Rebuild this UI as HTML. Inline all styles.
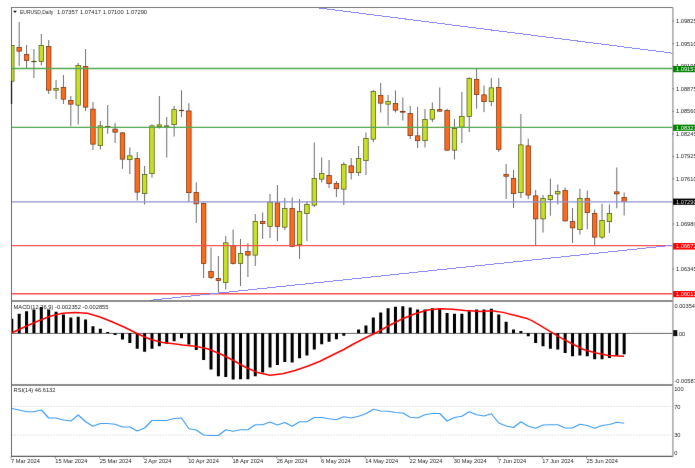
<!DOCTYPE html>
<html><head><meta charset="utf-8"><title>EURUSD Daily</title>
<style>html,body{margin:0;padding:0;background:#fff;overflow:hidden}svg{display:block}</style>
</head><body>
<svg width="695" height="468" viewBox="0 0 695 468" font-family="Liberation Sans, Arial, sans-serif">
<rect width="695" height="468" fill="#fff"/>
<filter id="bl" x="0" y="0" width="695" height="468" filterUnits="userSpaceOnUse" color-interpolation-filters="sRGB"><feConvolveMatrix order="3" kernelMatrix="0.00276 0.04704 0.00276 0.04704 0.80077 0.04704 0.00276 0.04704 0.00276" edgeMode="duplicate" preserveAlpha="true"/></filter>
<g filter="url(#bl)">
<rect width="695" height="468" fill="#fff"/>
<defs><clipPath id="cm"><rect x="11.0" y="7.5" width="661.9" height="293.5"/></clipPath><clipPath id="c2"><rect x="11.0" y="301.0" width="661.9" height="83.98000000000002"/></clipPath></defs>
<g clip-path="url(#cm)">
<line x1="11.80" y1="45" x2="11.80" y2="104" stroke="#3c3c3c" stroke-width="0.75"/>
<rect x="9.55" y="45.35" width="4.50" height="35.80" fill="#c8e123" stroke="#4a5214" stroke-width="0.7"/>
<line x1="19.18" y1="22" x2="19.18" y2="66" stroke="#3c3c3c" stroke-width="0.75"/>
<rect x="16.93" y="47.35" width="4.50" height="3.80" fill="#ff6a1a" stroke="#6e2f10" stroke-width="0.7"/>
<line x1="26.56" y1="45" x2="26.56" y2="69" stroke="#3c3c3c" stroke-width="0.75"/>
<rect x="24.31" y="54.35" width="4.50" height="6.30" fill="#ff6a1a" stroke="#6e2f10" stroke-width="0.7"/>
<line x1="33.93" y1="49" x2="33.93" y2="78" stroke="#3c3c3c" stroke-width="0.75"/>
<rect x="31.68" y="61.25" width="4.50" height="0.50" fill="#c8e123" stroke="#4a5214" stroke-width="0.7"/>
<line x1="41.31" y1="34" x2="41.31" y2="65.5" stroke="#3c3c3c" stroke-width="0.75"/>
<rect x="39.06" y="45.35" width="4.50" height="16.30" fill="#c8e123" stroke="#4a5214" stroke-width="0.7"/>
<line x1="48.69" y1="40" x2="48.69" y2="94" stroke="#3c3c3c" stroke-width="0.75"/>
<rect x="46.44" y="46.35" width="4.50" height="43.80" fill="#ff6a1a" stroke="#6e2f10" stroke-width="0.7"/>
<line x1="56.07" y1="80" x2="56.07" y2="99" stroke="#3c3c3c" stroke-width="0.75"/>
<rect x="53.82" y="88.35" width="4.50" height="1.80" fill="#c8e123" stroke="#4a5214" stroke-width="0.7"/>
<line x1="63.45" y1="75" x2="63.45" y2="104" stroke="#3c3c3c" stroke-width="0.75"/>
<rect x="61.20" y="87.35" width="4.50" height="11.80" fill="#ff6a1a" stroke="#6e2f10" stroke-width="0.7"/>
<line x1="70.82" y1="96" x2="70.82" y2="126.25" stroke="#3c3c3c" stroke-width="0.75"/>
<rect x="68.57" y="100.35" width="4.50" height="3.80" fill="#ff6a1a" stroke="#6e2f10" stroke-width="0.7"/>
<line x1="78.20" y1="63" x2="78.20" y2="124.5" stroke="#3c3c3c" stroke-width="0.75"/>
<rect x="75.95" y="65.35" width="4.50" height="39.80" fill="#c8e123" stroke="#4a5214" stroke-width="0.7"/>
<line x1="85.58" y1="49" x2="85.58" y2="111" stroke="#3c3c3c" stroke-width="0.75"/>
<rect x="83.33" y="66.35" width="4.50" height="40.80" fill="#ff6a1a" stroke="#6e2f10" stroke-width="0.7"/>
<line x1="92.96" y1="102" x2="92.96" y2="150" stroke="#3c3c3c" stroke-width="0.75"/>
<rect x="90.71" y="109.10" width="4.50" height="35.05" fill="#ff6a1a" stroke="#6e2f10" stroke-width="0.7"/>
<line x1="100.34" y1="121" x2="100.34" y2="149.5" stroke="#3c3c3c" stroke-width="0.75"/>
<rect x="98.09" y="125.85" width="4.50" height="19.80" fill="#c8e123" stroke="#4a5214" stroke-width="0.7"/>
<line x1="107.71" y1="105" x2="107.71" y2="133.75" stroke="#3c3c3c" stroke-width="0.75"/>
<rect x="105.46" y="126.35" width="4.50" height="1.30" fill="#ff6a1a" stroke="#6e2f10" stroke-width="0.7"/>
<line x1="115.09" y1="123" x2="115.09" y2="143" stroke="#3c3c3c" stroke-width="0.75"/>
<rect x="112.84" y="129.10" width="4.50" height="3.05" fill="#ff6a1a" stroke="#6e2f10" stroke-width="0.7"/>
<line x1="122.47" y1="132" x2="122.47" y2="168.75" stroke="#3c3c3c" stroke-width="0.75"/>
<rect x="120.22" y="132.85" width="4.50" height="26.30" fill="#ff6a1a" stroke="#6e2f10" stroke-width="0.7"/>
<line x1="129.85" y1="147.5" x2="129.85" y2="174" stroke="#3c3c3c" stroke-width="0.75"/>
<rect x="127.60" y="155.85" width="4.50" height="3.80" fill="#c8e123" stroke="#4a5214" stroke-width="0.7"/>
<line x1="137.23" y1="152" x2="137.23" y2="200.5" stroke="#3c3c3c" stroke-width="0.75"/>
<rect x="134.98" y="158.35" width="4.50" height="33.80" fill="#ff6a1a" stroke="#6e2f10" stroke-width="0.7"/>
<line x1="144.60" y1="166" x2="144.60" y2="204.5" stroke="#3c3c3c" stroke-width="0.75"/>
<rect x="142.35" y="174.35" width="4.50" height="19.30" fill="#c8e123" stroke="#4a5214" stroke-width="0.7"/>
<line x1="151.98" y1="124.5" x2="151.98" y2="177.5" stroke="#3c3c3c" stroke-width="0.75"/>
<rect x="149.73" y="125.85" width="4.50" height="47.80" fill="#c8e123" stroke="#4a5214" stroke-width="0.7"/>
<line x1="159.36" y1="96" x2="159.36" y2="128.5" stroke="#3c3c3c" stroke-width="0.75"/>
<rect x="157.11" y="124.85" width="4.50" height="1.80" fill="#c8e123" stroke="#4a5214" stroke-width="0.7"/>
<line x1="166.74" y1="117" x2="166.74" y2="157.5" stroke="#3c3c3c" stroke-width="0.75"/>
<rect x="164.49" y="125.85" width="4.50" height="0.50" fill="#c8e123" stroke="#4a5214" stroke-width="0.7"/>
<line x1="174.12" y1="105.8" x2="174.12" y2="136.5" stroke="#3c3c3c" stroke-width="0.75"/>
<rect x="171.87" y="109.65" width="4.50" height="15.00" fill="#c8e123" stroke="#4a5214" stroke-width="0.7"/>
<line x1="181.49" y1="90.3" x2="181.49" y2="117" stroke="#3c3c3c" stroke-width="0.75"/>
<rect x="179.24" y="110.25" width="4.50" height="0.50" fill="#ff6a1a" stroke="#6e2f10" stroke-width="0.7"/>
<line x1="188.87" y1="103.2" x2="188.87" y2="201.8" stroke="#3c3c3c" stroke-width="0.75"/>
<rect x="186.62" y="110.95" width="4.50" height="81.70" fill="#ff6a1a" stroke="#6e2f10" stroke-width="0.7"/>
<line x1="196.25" y1="182.3" x2="196.25" y2="223" stroke="#3c3c3c" stroke-width="0.75"/>
<rect x="194.00" y="192.35" width="4.50" height="11.50" fill="#ff6a1a" stroke="#6e2f10" stroke-width="0.7"/>
<line x1="203.63" y1="202.5" x2="203.63" y2="278" stroke="#3c3c3c" stroke-width="0.75"/>
<rect x="201.38" y="203.55" width="4.50" height="60.10" fill="#ff6a1a" stroke="#6e2f10" stroke-width="0.7"/>
<line x1="211.01" y1="247.5" x2="211.01" y2="279" stroke="#3c3c3c" stroke-width="0.75"/>
<rect x="208.76" y="271.35" width="4.50" height="6.30" fill="#ff6a1a" stroke="#6e2f10" stroke-width="0.7"/>
<line x1="218.38" y1="256" x2="218.38" y2="292.5" stroke="#3c3c3c" stroke-width="0.75"/>
<rect x="216.13" y="278.35" width="4.50" height="2.30" fill="#ff6a1a" stroke="#6e2f10" stroke-width="0.7"/>
<line x1="225.76" y1="236" x2="225.76" y2="289.5" stroke="#3c3c3c" stroke-width="0.75"/>
<rect x="223.51" y="242.85" width="4.50" height="39.80" fill="#c8e123" stroke="#4a5214" stroke-width="0.7"/>
<line x1="233.14" y1="229.5" x2="233.14" y2="264.5" stroke="#3c3c3c" stroke-width="0.75"/>
<rect x="230.89" y="245.85" width="4.50" height="17.80" fill="#ff6a1a" stroke="#6e2f10" stroke-width="0.7"/>
<line x1="240.52" y1="239" x2="240.52" y2="286" stroke="#3c3c3c" stroke-width="0.75"/>
<rect x="238.27" y="253.35" width="4.50" height="10.30" fill="#c8e123" stroke="#4a5214" stroke-width="0.7"/>
<line x1="247.90" y1="243" x2="247.90" y2="277" stroke="#3c3c3c" stroke-width="0.75"/>
<rect x="245.65" y="251.35" width="4.50" height="3.80" fill="#ff6a1a" stroke="#6e2f10" stroke-width="0.7"/>
<line x1="255.27" y1="214" x2="255.27" y2="266" stroke="#3c3c3c" stroke-width="0.75"/>
<rect x="253.02" y="221.35" width="4.50" height="33.80" fill="#c8e123" stroke="#4a5214" stroke-width="0.7"/>
<line x1="262.65" y1="212.5" x2="262.65" y2="239" stroke="#3c3c3c" stroke-width="0.75"/>
<rect x="260.40" y="221.35" width="4.50" height="2.30" fill="#ff6a1a" stroke="#6e2f10" stroke-width="0.7"/>
<line x1="270.03" y1="194" x2="270.03" y2="238" stroke="#3c3c3c" stroke-width="0.75"/>
<rect x="267.78" y="202.10" width="4.50" height="24.30" fill="#c8e123" stroke="#4a5214" stroke-width="0.7"/>
<line x1="277.41" y1="185" x2="277.41" y2="241" stroke="#3c3c3c" stroke-width="0.75"/>
<rect x="275.16" y="202.85" width="4.50" height="23.55" fill="#ff6a1a" stroke="#6e2f10" stroke-width="0.7"/>
<line x1="284.79" y1="198" x2="284.79" y2="230" stroke="#3c3c3c" stroke-width="0.75"/>
<rect x="282.54" y="208.35" width="4.50" height="18.80" fill="#c8e123" stroke="#4a5214" stroke-width="0.7"/>
<line x1="292.16" y1="197.5" x2="292.16" y2="247.2" stroke="#3c3c3c" stroke-width="0.75"/>
<rect x="289.91" y="208.35" width="4.50" height="38.05" fill="#ff6a1a" stroke="#6e2f10" stroke-width="0.7"/>
<line x1="299.54" y1="199" x2="299.54" y2="259" stroke="#3c3c3c" stroke-width="0.75"/>
<rect x="297.29" y="211.35" width="4.50" height="33.30" fill="#c8e123" stroke="#4a5214" stroke-width="0.7"/>
<line x1="306.92" y1="201" x2="306.92" y2="241" stroke="#3c3c3c" stroke-width="0.75"/>
<rect x="304.67" y="204.35" width="4.50" height="9.30" fill="#c8e123" stroke="#4a5214" stroke-width="0.7"/>
<line x1="314.30" y1="142.5" x2="314.30" y2="207" stroke="#3c3c3c" stroke-width="0.75"/>
<rect x="312.05" y="178.35" width="4.50" height="26.80" fill="#c8e123" stroke="#4a5214" stroke-width="0.7"/>
<line x1="321.68" y1="157.5" x2="321.68" y2="182.5" stroke="#3c3c3c" stroke-width="0.75"/>
<rect x="319.43" y="173.35" width="4.50" height="5.80" fill="#c8e123" stroke="#4a5214" stroke-width="0.7"/>
<line x1="329.05" y1="160" x2="329.05" y2="188" stroke="#3c3c3c" stroke-width="0.75"/>
<rect x="326.80" y="175.35" width="4.50" height="8.30" fill="#ff6a1a" stroke="#6e2f10" stroke-width="0.7"/>
<line x1="336.43" y1="181" x2="336.43" y2="197" stroke="#3c3c3c" stroke-width="0.75"/>
<rect x="334.18" y="183.35" width="4.50" height="5.30" fill="#ff6a1a" stroke="#6e2f10" stroke-width="0.7"/>
<line x1="343.81" y1="162" x2="343.81" y2="205" stroke="#3c3c3c" stroke-width="0.75"/>
<rect x="341.56" y="164.35" width="4.50" height="24.80" fill="#c8e123" stroke="#4a5214" stroke-width="0.7"/>
<line x1="351.19" y1="158" x2="351.19" y2="179.5" stroke="#3c3c3c" stroke-width="0.75"/>
<rect x="348.94" y="165.85" width="4.50" height="6.80" fill="#ff6a1a" stroke="#6e2f10" stroke-width="0.7"/>
<line x1="358.57" y1="146" x2="358.57" y2="176" stroke="#3c3c3c" stroke-width="0.75"/>
<rect x="356.32" y="158.35" width="4.50" height="14.30" fill="#c8e123" stroke="#4a5214" stroke-width="0.7"/>
<line x1="365.94" y1="132.5" x2="365.94" y2="175" stroke="#3c3c3c" stroke-width="0.75"/>
<rect x="363.69" y="138.35" width="4.50" height="22.30" fill="#c8e123" stroke="#4a5214" stroke-width="0.7"/>
<line x1="373.32" y1="90" x2="373.32" y2="142" stroke="#3c3c3c" stroke-width="0.75"/>
<rect x="371.07" y="91.35" width="4.50" height="47.80" fill="#c8e123" stroke="#4a5214" stroke-width="0.7"/>
<line x1="380.70" y1="83" x2="380.70" y2="112.5" stroke="#3c3c3c" stroke-width="0.75"/>
<rect x="378.45" y="95.35" width="4.50" height="7.80" fill="#ff6a1a" stroke="#6e2f10" stroke-width="0.7"/>
<line x1="388.08" y1="95" x2="388.08" y2="125.5" stroke="#3c3c3c" stroke-width="0.75"/>
<rect x="385.83" y="101.35" width="4.50" height="2.80" fill="#c8e123" stroke="#4a5214" stroke-width="0.7"/>
<line x1="395.46" y1="90.5" x2="395.46" y2="112.5" stroke="#3c3c3c" stroke-width="0.75"/>
<rect x="393.21" y="103.35" width="4.50" height="6.80" fill="#ff6a1a" stroke="#6e2f10" stroke-width="0.7"/>
<line x1="402.83" y1="97.5" x2="402.83" y2="120.5" stroke="#3c3c3c" stroke-width="0.75"/>
<rect x="400.58" y="111.35" width="4.50" height="0.80" fill="#ff6a1a" stroke="#6e2f10" stroke-width="0.7"/>
<line x1="410.21" y1="106" x2="410.21" y2="139" stroke="#3c3c3c" stroke-width="0.75"/>
<rect x="407.96" y="113.35" width="4.50" height="22.30" fill="#ff6a1a" stroke="#6e2f10" stroke-width="0.7"/>
<line x1="417.59" y1="107" x2="417.59" y2="148" stroke="#3c3c3c" stroke-width="0.75"/>
<rect x="415.34" y="135.85" width="4.50" height="4.80" fill="#ff6a1a" stroke="#6e2f10" stroke-width="0.7"/>
<line x1="424.97" y1="109" x2="424.97" y2="147.5" stroke="#3c3c3c" stroke-width="0.75"/>
<rect x="422.72" y="119.35" width="4.50" height="21.30" fill="#c8e123" stroke="#4a5214" stroke-width="0.7"/>
<line x1="432.35" y1="102.5" x2="432.35" y2="122" stroke="#3c3c3c" stroke-width="0.75"/>
<rect x="430.10" y="109.35" width="4.50" height="9.80" fill="#c8e123" stroke="#4a5214" stroke-width="0.7"/>
<line x1="439.72" y1="87.5" x2="439.72" y2="111.8" stroke="#3c3c3c" stroke-width="0.75"/>
<rect x="437.47" y="109.65" width="4.50" height="1.50" fill="#ff6a1a" stroke="#6e2f10" stroke-width="0.7"/>
<line x1="447.10" y1="108.75" x2="447.10" y2="151" stroke="#3c3c3c" stroke-width="0.75"/>
<rect x="444.85" y="110.35" width="4.50" height="39.80" fill="#ff6a1a" stroke="#6e2f10" stroke-width="0.7"/>
<line x1="454.48" y1="119" x2="454.48" y2="159.5" stroke="#3c3c3c" stroke-width="0.75"/>
<rect x="452.23" y="128.35" width="4.50" height="21.80" fill="#c8e123" stroke="#4a5214" stroke-width="0.7"/>
<line x1="461.86" y1="92" x2="461.86" y2="143" stroke="#3c3c3c" stroke-width="0.75"/>
<rect x="459.61" y="116.35" width="4.50" height="10.80" fill="#c8e123" stroke="#4a5214" stroke-width="0.7"/>
<line x1="469.24" y1="77.3" x2="469.24" y2="132" stroke="#3c3c3c" stroke-width="0.75"/>
<rect x="466.99" y="78.35" width="4.50" height="38.30" fill="#c8e123" stroke="#4a5214" stroke-width="0.7"/>
<line x1="476.61" y1="68" x2="476.61" y2="108.6" stroke="#3c3c3c" stroke-width="0.75"/>
<rect x="474.36" y="79.35" width="4.50" height="15.30" fill="#ff6a1a" stroke="#6e2f10" stroke-width="0.7"/>
<line x1="483.99" y1="85.5" x2="483.99" y2="112.2" stroke="#3c3c3c" stroke-width="0.75"/>
<rect x="481.74" y="94.85" width="4.50" height="6.80" fill="#ff6a1a" stroke="#6e2f10" stroke-width="0.7"/>
<line x1="491.37" y1="78" x2="491.37" y2="106" stroke="#3c3c3c" stroke-width="0.75"/>
<rect x="489.12" y="87.85" width="4.50" height="13.80" fill="#c8e123" stroke="#4a5214" stroke-width="0.7"/>
<line x1="498.75" y1="78" x2="498.75" y2="152" stroke="#3c3c3c" stroke-width="0.75"/>
<rect x="496.50" y="87.35" width="4.50" height="62.10" fill="#ff6a1a" stroke="#6e2f10" stroke-width="0.7"/>
<line x1="506.13" y1="164" x2="506.13" y2="199" stroke="#3c3c3c" stroke-width="0.75"/>
<rect x="503.88" y="174.35" width="4.50" height="1.90" fill="#ff6a1a" stroke="#6e2f10" stroke-width="0.7"/>
<line x1="513.50" y1="169.8" x2="513.50" y2="208" stroke="#3c3c3c" stroke-width="0.75"/>
<rect x="511.25" y="178.35" width="4.50" height="15.30" fill="#ff6a1a" stroke="#6e2f10" stroke-width="0.7"/>
<line x1="520.88" y1="114" x2="520.88" y2="198" stroke="#3c3c3c" stroke-width="0.75"/>
<rect x="518.63" y="144.85" width="4.50" height="47.80" fill="#c8e123" stroke="#4a5214" stroke-width="0.7"/>
<line x1="528.26" y1="138.75" x2="528.26" y2="199.2" stroke="#3c3c3c" stroke-width="0.75"/>
<rect x="526.01" y="145.85" width="4.50" height="49.20" fill="#ff6a1a" stroke="#6e2f10" stroke-width="0.7"/>
<line x1="535.64" y1="190" x2="535.64" y2="245.4" stroke="#3c3c3c" stroke-width="0.75"/>
<rect x="533.39" y="195.85" width="4.50" height="23.05" fill="#ff6a1a" stroke="#6e2f10" stroke-width="0.7"/>
<line x1="543.02" y1="195" x2="543.02" y2="232.5" stroke="#3c3c3c" stroke-width="0.75"/>
<rect x="540.77" y="198.60" width="4.50" height="20.30" fill="#c8e123" stroke="#4a5214" stroke-width="0.7"/>
<line x1="550.39" y1="178.75" x2="550.39" y2="215.7" stroke="#3c3c3c" stroke-width="0.75"/>
<rect x="548.14" y="195.55" width="4.50" height="4.10" fill="#c8e123" stroke="#4a5214" stroke-width="0.7"/>
<line x1="557.77" y1="184.5" x2="557.77" y2="204.5" stroke="#3c3c3c" stroke-width="0.75"/>
<rect x="555.52" y="191.60" width="4.50" height="2.30" fill="#c8e123" stroke="#4a5214" stroke-width="0.7"/>
<line x1="565.15" y1="187.5" x2="565.15" y2="221.5" stroke="#3c3c3c" stroke-width="0.75"/>
<rect x="562.90" y="190.35" width="4.50" height="30.55" fill="#ff6a1a" stroke="#6e2f10" stroke-width="0.7"/>
<line x1="572.53" y1="208" x2="572.53" y2="243" stroke="#3c3c3c" stroke-width="0.75"/>
<rect x="570.28" y="221.60" width="4.50" height="6.30" fill="#ff6a1a" stroke="#6e2f10" stroke-width="0.7"/>
<line x1="579.91" y1="188.75" x2="579.91" y2="234.5" stroke="#3c3c3c" stroke-width="0.75"/>
<rect x="577.66" y="198.35" width="4.50" height="31.30" fill="#c8e123" stroke="#4a5214" stroke-width="0.7"/>
<line x1="587.28" y1="190.5" x2="587.28" y2="229.25" stroke="#3c3c3c" stroke-width="0.75"/>
<rect x="585.03" y="198.60" width="4.50" height="14.05" fill="#ff6a1a" stroke="#6e2f10" stroke-width="0.7"/>
<line x1="594.66" y1="209.5" x2="594.66" y2="246.25" stroke="#3c3c3c" stroke-width="0.75"/>
<rect x="592.41" y="213.35" width="4.50" height="23.80" fill="#ff6a1a" stroke="#6e2f10" stroke-width="0.7"/>
<line x1="602.04" y1="203.75" x2="602.04" y2="238.75" stroke="#3c3c3c" stroke-width="0.75"/>
<rect x="599.79" y="220.35" width="4.50" height="16.80" fill="#c8e123" stroke="#4a5214" stroke-width="0.7"/>
<line x1="609.42" y1="204.5" x2="609.42" y2="233" stroke="#3c3c3c" stroke-width="0.75"/>
<rect x="607.17" y="213.60" width="4.50" height="8.05" fill="#c8e123" stroke="#4a5214" stroke-width="0.7"/>
<line x1="616.80" y1="167.5" x2="616.80" y2="208.25" stroke="#3c3c3c" stroke-width="0.75"/>
<rect x="614.55" y="191.85" width="4.50" height="2.05" fill="#ff6a1a" stroke="#6e2f10" stroke-width="0.7"/>
<line x1="624.17" y1="192.5" x2="624.17" y2="215.5" stroke="#3c3c3c" stroke-width="0.75"/>
<rect x="621.92" y="197.35" width="4.50" height="4.05" fill="#ff6a1a" stroke="#6e2f10" stroke-width="0.7"/>
<line x1="11.5" y1="68.5" x2="672.9" y2="68.5" stroke="#55a852" stroke-width="1.3"/>
<line x1="11.5" y1="127.3" x2="672.9" y2="127.3" stroke="#55a852" stroke-width="1.3"/>
<line x1="11.5" y1="201.8" x2="672.9" y2="201.8" stroke="#9090d4" stroke-width="1.2"/>
<line x1="11.5" y1="245.65" x2="672.9" y2="245.65" stroke="#ff5050" stroke-width="1.4"/>
<line x1="11.5" y1="293.7" x2="672.9" y2="293.7" stroke="#ff5050" stroke-width="1.4"/>
<line x1="315.5" y1="7.5" x2="672.9" y2="53.2" stroke="#8484ff" stroke-width="1" shape-rendering="crispEdges"/>
<line x1="150" y1="300.3" x2="672.9" y2="245.2" stroke="#8484ff" stroke-width="1" shape-rendering="crispEdges"/>
</g>
<g clip-path="url(#c2)">
<line x1="11.5" y1="333.4" x2="672.9" y2="333.4" stroke="#555" stroke-width="0.9"/>
<rect x="10.30" y="318.75" width="3" height="14.45" fill="#000"/>
<rect x="17.68" y="313.75" width="3" height="19.45" fill="#000"/>
<rect x="25.06" y="311.25" width="3" height="21.95" fill="#000"/>
<rect x="32.43" y="309.50" width="3" height="23.70" fill="#000"/>
<rect x="39.81" y="307.00" width="3" height="26.20" fill="#000"/>
<rect x="47.19" y="309.50" width="3" height="23.70" fill="#000"/>
<rect x="54.57" y="311.75" width="3" height="21.45" fill="#000"/>
<rect x="61.95" y="314.50" width="3" height="18.70" fill="#000"/>
<rect x="69.32" y="317.50" width="3" height="15.70" fill="#000"/>
<rect x="76.70" y="316.75" width="3" height="16.45" fill="#000"/>
<rect x="84.08" y="319.50" width="3" height="13.70" fill="#000"/>
<rect x="91.46" y="326.25" width="3" height="6.95" fill="#000"/>
<rect x="98.84" y="328.75" width="3" height="4.45" fill="#000"/>
<rect x="106.21" y="332.00" width="3" height="1.20" fill="#000"/>
<rect x="113.59" y="333.20" width="3" height="1.80" fill="#000"/>
<rect x="120.97" y="333.20" width="3" height="6.30" fill="#000"/>
<rect x="128.35" y="333.20" width="3" height="9.80" fill="#000"/>
<rect x="135.73" y="333.20" width="3" height="15.55" fill="#000"/>
<rect x="143.10" y="333.20" width="3" height="18.55" fill="#000"/>
<rect x="150.48" y="333.20" width="3" height="15.55" fill="#000"/>
<rect x="157.86" y="333.20" width="3" height="13.05" fill="#000"/>
<rect x="165.24" y="333.20" width="3" height="10.55" fill="#000"/>
<rect x="172.62" y="333.20" width="3" height="8.05" fill="#000"/>
<rect x="179.99" y="333.20" width="3" height="5.05" fill="#000"/>
<rect x="187.37" y="333.20" width="3" height="11.30" fill="#000"/>
<rect x="194.75" y="333.20" width="3" height="16.80" fill="#000"/>
<rect x="202.13" y="333.20" width="3" height="26.80" fill="#000"/>
<rect x="209.51" y="333.20" width="3" height="36.30" fill="#000"/>
<rect x="216.88" y="333.20" width="3" height="43.05" fill="#000"/>
<rect x="224.26" y="333.20" width="3" height="43.80" fill="#000"/>
<rect x="231.64" y="333.20" width="3" height="46.30" fill="#000"/>
<rect x="239.02" y="333.20" width="3" height="46.05" fill="#000"/>
<rect x="246.40" y="333.20" width="3" height="46.05" fill="#000"/>
<rect x="253.77" y="333.20" width="3" height="43.05" fill="#000"/>
<rect x="261.15" y="333.20" width="3" height="39.30" fill="#000"/>
<rect x="268.53" y="333.20" width="3" height="34.30" fill="#000"/>
<rect x="275.91" y="333.20" width="3" height="31.80" fill="#000"/>
<rect x="283.29" y="333.20" width="3" height="28.80" fill="#000"/>
<rect x="290.66" y="333.20" width="3" height="29.30" fill="#000"/>
<rect x="298.04" y="333.20" width="3" height="25.05" fill="#000"/>
<rect x="305.42" y="333.20" width="3" height="22.30" fill="#000"/>
<rect x="312.80" y="333.20" width="3" height="16.30" fill="#000"/>
<rect x="320.18" y="333.20" width="3" height="11.05" fill="#000"/>
<rect x="327.55" y="333.20" width="3" height="8.55" fill="#000"/>
<rect x="334.93" y="333.20" width="3" height="6.05" fill="#000"/>
<rect x="342.31" y="333.20" width="3" height="2.55" fill="#000"/>
<rect x="357.07" y="329.50" width="3" height="3.70" fill="#000"/>
<rect x="364.44" y="325.50" width="3" height="7.70" fill="#000"/>
<rect x="371.82" y="317.50" width="3" height="15.70" fill="#000"/>
<rect x="379.20" y="312.50" width="3" height="20.70" fill="#000"/>
<rect x="386.58" y="308.25" width="3" height="24.95" fill="#000"/>
<rect x="393.96" y="306.75" width="3" height="26.45" fill="#000"/>
<rect x="401.33" y="306.25" width="3" height="26.95" fill="#000"/>
<rect x="408.71" y="307.50" width="3" height="25.70" fill="#000"/>
<rect x="416.09" y="309.50" width="3" height="23.70" fill="#000"/>
<rect x="423.47" y="309.50" width="3" height="23.70" fill="#000"/>
<rect x="430.85" y="308.25" width="3" height="24.95" fill="#000"/>
<rect x="438.22" y="308.25" width="3" height="24.95" fill="#000"/>
<rect x="445.60" y="313.00" width="3" height="20.20" fill="#000"/>
<rect x="452.98" y="313.75" width="3" height="19.45" fill="#000"/>
<rect x="460.36" y="313.75" width="3" height="19.45" fill="#000"/>
<rect x="467.74" y="311.25" width="3" height="21.95" fill="#000"/>
<rect x="475.11" y="309.50" width="3" height="23.70" fill="#000"/>
<rect x="482.49" y="309.50" width="3" height="23.70" fill="#000"/>
<rect x="489.87" y="308.75" width="3" height="24.45" fill="#000"/>
<rect x="497.25" y="314.50" width="3" height="18.70" fill="#000"/>
<rect x="504.63" y="321.75" width="3" height="11.45" fill="#000"/>
<rect x="512.00" y="329.50" width="3" height="3.70" fill="#000"/>
<rect x="519.38" y="331.00" width="3" height="2.20" fill="#000"/>
<rect x="526.76" y="333.20" width="3" height="3.05" fill="#000"/>
<rect x="534.14" y="333.20" width="3" height="9.80" fill="#000"/>
<rect x="541.52" y="333.20" width="3" height="13.05" fill="#000"/>
<rect x="548.89" y="333.20" width="3" height="15.55" fill="#000"/>
<rect x="556.27" y="333.20" width="3" height="16.30" fill="#000"/>
<rect x="563.65" y="333.20" width="3" height="19.80" fill="#000"/>
<rect x="571.03" y="333.20" width="3" height="23.05" fill="#000"/>
<rect x="578.41" y="333.20" width="3" height="22.30" fill="#000"/>
<rect x="585.78" y="333.20" width="3" height="23.05" fill="#000"/>
<rect x="593.16" y="333.20" width="3" height="26.05" fill="#000"/>
<rect x="600.54" y="333.20" width="3" height="26.05" fill="#000"/>
<rect x="607.92" y="333.20" width="3" height="24.80" fill="#000"/>
<rect x="615.30" y="333.20" width="3" height="22.30" fill="#000"/>
<rect x="622.67" y="333.20" width="3" height="21.05" fill="#000"/>
<polyline points="11.5,333 25,326.75 37.5,321.25 50,316.25 62.5,313.25 75,312.5 87.5,313.25 100,317 112.5,322 125,327.5 137.5,333.75 150,339.25 162.5,342.5 173.75,343.75 182.5,345 195,346.25 207.5,348.75 220,353.75 232.5,360 245,367 257.5,372.5 270,375.25 282.5,373.75 295,370.5 307.5,366.25 320,361.25 332.5,355 343.75,349.5 352.5,344.5 365,338 377.5,332 390,325 402.5,318.75 415,313.75 427.5,310 440,308.75 452.5,309.25 465,310.5 477.5,311.25 480,311.5 491.5,310.7 503,312.4 514.5,315.3 526,318.2 531.8,320.7 537.5,323.8 543.3,327.4 549,330.8 554.8,334.3 560,337.4 571,343.25 583.5,349.5 596,353 608.5,355.5 624,356.25" fill="none" stroke="#f00" stroke-width="1.45" stroke-linejoin="round"/>
</g>
<line x1="11.5" y1="406.3" x2="672.9" y2="406.3" stroke="#c4c4c4" stroke-width="0.6" stroke-dasharray="1.4 1.4"/>
<line x1="11.5" y1="435" x2="672.9" y2="435" stroke="#c4c4c4" stroke-width="0.6" stroke-dasharray="1.4 1.4"/>
<polyline points="11.80,408.5 19.18,410 26.56,411.75 33.93,411.75 41.31,410 48.69,418 56.07,418 63.45,420 70.82,421 78.20,415 85.58,421.75 92.96,426.25 100.34,423.5 107.71,423.5 115.09,424.25 122.47,427 129.85,427 137.23,431 144.60,428 151.98,420.5 159.36,420.5 166.74,420.5 174.12,418.5 181.49,418 188.87,428.75 196.25,430 203.63,435 211.01,435.5 218.38,435.5 225.76,429.75 233.14,431.25 240.52,429.75 247.90,429.75 255.27,424.75 262.65,424.75 270.03,422 277.41,425 284.79,422.5 292.16,426.25 299.54,421.75 306.92,421.75 314.30,417.5 321.68,417.5 329.05,418.75 336.43,419.75 343.81,416.75 351.19,418 358.57,416.25 365.94,413.75 373.32,409.25 380.70,411 388.08,411.25 395.46,412.5 402.83,413 410.21,417.25 417.59,418 424.97,414.75 432.35,413.5 439.72,413.5 447.10,421 454.48,417.5 461.86,416.25 469.24,411.75 476.61,414.75 483.99,416 491.37,413.75 498.75,423 506.13,426 513.50,427.5 520.88,421.75 528.26,426.25 535.64,428.25 543.02,425 550.39,424.75 557.77,424.75 565.15,428 572.53,428 579.91,424.25 587.28,425.5 594.66,428.25 602.04,425.5 609.42,424.5 616.80,422.25 624.17,423.25" fill="none" stroke="#3c9cf5" stroke-width="1.2" stroke-linejoin="round"/>
<line x1="11.0" y1="7.5" x2="672.9" y2="7.5" stroke="#7a7a7a" stroke-width="1"/>
<line x1="11.5" y1="7.5" x2="11.5" y2="456.9" stroke="#6a6a6a" stroke-width="1"/>
<line x1="672.9" y1="7.5" x2="672.9" y2="456.9" stroke="#a8a8a8" stroke-width="1.5"/>
<line x1="11.5" y1="301.0" x2="672.5" y2="301.0" stroke="#686868" stroke-width="1.5"/>
<line x1="11.5" y1="384.98" x2="672.5" y2="384.98" stroke="#686868" stroke-width="1.5"/>
<line x1="11.5" y1="456.4" x2="672.5" y2="456.4" stroke="#606060" stroke-width="1.1"/>
<line x1="11.4" y1="81" x2="11.4" y2="104" stroke="#111" stroke-width="1"/>
<path d="M13.1 10.8 L16.9 10.8 L15 13.1 Z" fill="#111"/>
<text transform="translate(20,13.7) scale(0.1,0.108)" font-size="57" fill="#1e1e1e" textLength="333.0" lengthAdjust="spacingAndGlyphs">EURUSD,Daily</text>
<text transform="translate(56.9,13.7) scale(0.1,0.108)" font-size="57" fill="#1e1e1e" textLength="210.0" lengthAdjust="spacingAndGlyphs">1.07357</text>
<text transform="translate(79.9,13.7) scale(0.1,0.108)" font-size="57" fill="#1e1e1e" textLength="210.0" lengthAdjust="spacingAndGlyphs">1.07417</text>
<text transform="translate(102.8,13.7) scale(0.1,0.108)" font-size="57" fill="#1e1e1e" textLength="210.0" lengthAdjust="spacingAndGlyphs">1.07100</text>
<text transform="translate(126.1,13.7) scale(0.1,0.108)" font-size="57" fill="#1e1e1e" textLength="210.0" lengthAdjust="spacingAndGlyphs">1.07290</text>
<text transform="translate(13.5,309) scale(0.1,0.108)" font-size="57" fill="#1e1e1e" textLength="950.0" lengthAdjust="spacingAndGlyphs">MACD(12,26,9) -0.002352 -0.002855</text>
<text transform="translate(13.5,392) scale(0.1,0.108)" font-size="57" fill="#1e1e1e" textLength="420.0" lengthAdjust="spacingAndGlyphs">RSI(14) 46.6132</text>
<line x1="672.5" y1="21.10" x2="674.1" y2="21.10" stroke="#666" stroke-width="0.8"/>
<text transform="translate(676,23.1) scale(0.1,0.108)" font-size="57" fill="#1e1e1e">1.09825</text>
<line x1="672.5" y1="43.65" x2="674.1" y2="43.65" stroke="#666" stroke-width="0.8"/>
<text transform="translate(676,45.65) scale(0.1,0.108)" font-size="57" fill="#1e1e1e">1.09510</text>
<line x1="672.5" y1="66.19" x2="674.1" y2="66.19" stroke="#666" stroke-width="0.8"/>
<text transform="translate(676,68.19) scale(0.1,0.108)" font-size="57" fill="#1e1e1e">1.09195</text>
<line x1="672.5" y1="88.74" x2="674.1" y2="88.74" stroke="#666" stroke-width="0.8"/>
<text transform="translate(676,90.74) scale(0.1,0.108)" font-size="57" fill="#1e1e1e">1.08875</text>
<line x1="672.5" y1="111.28" x2="674.1" y2="111.28" stroke="#666" stroke-width="0.8"/>
<text transform="translate(676,113.28) scale(0.1,0.108)" font-size="57" fill="#1e1e1e">1.08560</text>
<line x1="672.5" y1="133.83" x2="674.1" y2="133.83" stroke="#666" stroke-width="0.8"/>
<text transform="translate(676,135.83) scale(0.1,0.108)" font-size="57" fill="#1e1e1e">1.08245</text>
<line x1="672.5" y1="156.37" x2="674.1" y2="156.37" stroke="#666" stroke-width="0.8"/>
<text transform="translate(676,158.37) scale(0.1,0.108)" font-size="57" fill="#1e1e1e">1.07925</text>
<line x1="672.5" y1="178.91" x2="674.1" y2="178.91" stroke="#666" stroke-width="0.8"/>
<text transform="translate(676,180.91) scale(0.1,0.108)" font-size="57" fill="#1e1e1e">1.07610</text>
<line x1="672.5" y1="224.01" x2="674.1" y2="224.01" stroke="#666" stroke-width="0.8"/>
<text transform="translate(676,226.01) scale(0.1,0.108)" font-size="57" fill="#1e1e1e">1.06980</text>
<line x1="672.5" y1="269.10" x2="674.1" y2="269.10" stroke="#666" stroke-width="0.8"/>
<text transform="translate(676,271.1) scale(0.1,0.108)" font-size="57" fill="#1e1e1e">1.06345</text>
<rect x="673.1" y="66.0" width="30" height="6.2" fill="#008000"/>
<text transform="translate(676,71.14999999999999) scale(0.1,0.108)" font-size="57" fill="#fff">1.09157</text>
<rect x="673.1" y="124.65" width="30" height="6.2" fill="#008000"/>
<text transform="translate(676,129.8) scale(0.1,0.108)" font-size="57" fill="#fff">1.08327</text>
<rect x="673.1" y="198.6" width="30" height="6.2" fill="#000"/>
<text transform="translate(676,203.75) scale(0.1,0.108)" font-size="57" fill="#ddd">1.07290</text>
<rect x="673.1" y="243.05" width="30" height="6.5" fill="#ff0000"/>
<text transform="translate(676,248.35000000000002) scale(0.1,0.108)" font-size="57" fill="#fff">1.06672</text>
<rect x="673.1" y="291.0" width="30" height="6.2" fill="#ff0000"/>
<text transform="translate(676,296.15000000000003) scale(0.1,0.108)" font-size="57" fill="#fff">1.06012</text>
<text transform="translate(674.4,308.3) scale(0.1,0.108)" font-size="57" fill="#1e1e1e">0.00354</text>
<text transform="translate(674.2,335.6) scale(0.1,0.108)" font-size="57" fill="#1e1e1e">0.00</text>
<rect x="673.1999999999999" y="330.1" width="4.1" height="6" fill="#111"/>
<text transform="translate(674.4,382.5) scale(0.1,0.108)" font-size="57" fill="#1e1e1e">-0.00587</text>
<text transform="translate(674.2,391.3) scale(0.1,0.108)" font-size="57" fill="#1e1e1e">100</text>
<text transform="translate(674.2,408.8) scale(0.1,0.108)" font-size="57" fill="#1e1e1e">70</text>
<text transform="translate(674.2,437.1) scale(0.1,0.108)" font-size="57" fill="#1e1e1e">30</text>
<text transform="translate(674.2,454.5) scale(0.1,0.108)" font-size="57" fill="#1e1e1e">0</text>
<line x1="11.10" y1="456.4" x2="11.10" y2="458.59999999999997" stroke="#666" stroke-width="0.7"/>
<text transform="translate(11.1,463) scale(0.1,0.108)" font-size="57" fill="#1e1e1e">7 Mar 2024</text>
<line x1="55.37" y1="456.4" x2="55.37" y2="458.59999999999997" stroke="#666" stroke-width="0.7"/>
<text transform="translate(55.37,463) scale(0.1,0.108)" font-size="57" fill="#1e1e1e">15 Mar 2024</text>
<line x1="99.64" y1="456.4" x2="99.64" y2="458.59999999999997" stroke="#666" stroke-width="0.7"/>
<text transform="translate(99.64,463) scale(0.1,0.108)" font-size="57" fill="#1e1e1e">25 Mar 2024</text>
<line x1="143.90" y1="456.4" x2="143.90" y2="458.59999999999997" stroke="#666" stroke-width="0.7"/>
<text transform="translate(143.9,463) scale(0.1,0.108)" font-size="57" fill="#1e1e1e">2 Apr 2024</text>
<line x1="188.17" y1="456.4" x2="188.17" y2="458.59999999999997" stroke="#666" stroke-width="0.7"/>
<text transform="translate(188.17,463) scale(0.1,0.108)" font-size="57" fill="#1e1e1e">10 Apr 2024</text>
<line x1="232.44" y1="456.4" x2="232.44" y2="458.59999999999997" stroke="#666" stroke-width="0.7"/>
<text transform="translate(232.44,463) scale(0.1,0.108)" font-size="57" fill="#1e1e1e">18 Apr 2024</text>
<line x1="276.71" y1="456.4" x2="276.71" y2="458.59999999999997" stroke="#666" stroke-width="0.7"/>
<text transform="translate(276.71,463) scale(0.1,0.108)" font-size="57" fill="#1e1e1e">26 Apr 2024</text>
<line x1="320.98" y1="456.4" x2="320.98" y2="458.59999999999997" stroke="#666" stroke-width="0.7"/>
<text transform="translate(320.98,463) scale(0.1,0.108)" font-size="57" fill="#1e1e1e">6 May 2024</text>
<line x1="365.24" y1="456.4" x2="365.24" y2="458.59999999999997" stroke="#666" stroke-width="0.7"/>
<text transform="translate(365.24,463) scale(0.1,0.108)" font-size="57" fill="#1e1e1e">14 May 2024</text>
<line x1="409.51" y1="456.4" x2="409.51" y2="458.59999999999997" stroke="#666" stroke-width="0.7"/>
<text transform="translate(409.51,463) scale(0.1,0.108)" font-size="57" fill="#1e1e1e">22 May 2024</text>
<line x1="453.78" y1="456.4" x2="453.78" y2="458.59999999999997" stroke="#666" stroke-width="0.7"/>
<text transform="translate(453.78,463) scale(0.1,0.108)" font-size="57" fill="#1e1e1e">30 May 2024</text>
<line x1="498.05" y1="456.4" x2="498.05" y2="458.59999999999997" stroke="#666" stroke-width="0.7"/>
<text transform="translate(498.05,463) scale(0.1,0.108)" font-size="57" fill="#1e1e1e">7 Jun 2024</text>
<line x1="542.32" y1="456.4" x2="542.32" y2="458.59999999999997" stroke="#666" stroke-width="0.7"/>
<text transform="translate(542.32,463) scale(0.1,0.108)" font-size="57" fill="#1e1e1e">17 Jun 2024</text>
<line x1="586.58" y1="456.4" x2="586.58" y2="458.59999999999997" stroke="#666" stroke-width="0.7"/>
<text transform="translate(586.58,463) scale(0.1,0.108)" font-size="57" fill="#1e1e1e">25 Jun 2024</text>
</g>
</svg>
</body></html>
